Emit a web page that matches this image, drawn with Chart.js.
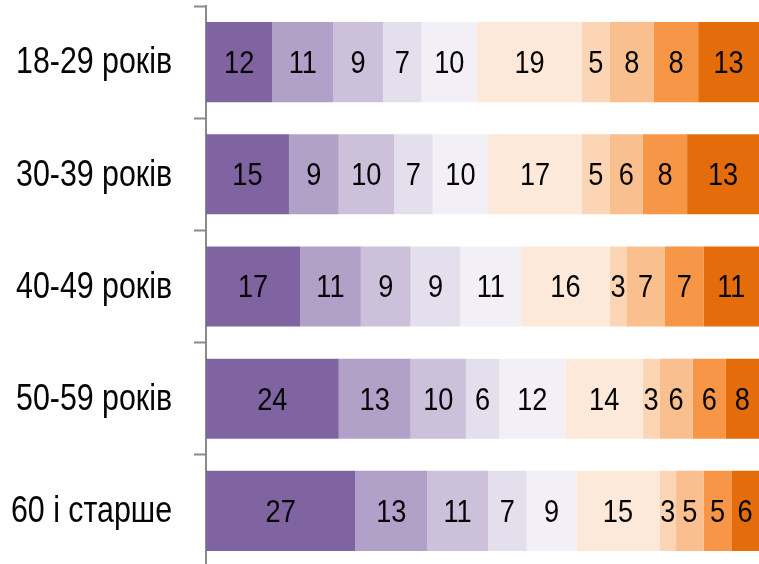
<!DOCTYPE html>
<html>
<head>
<meta charset="utf-8">
<script src="https://cdn.jsdelivr.net/npm/chart.js@4/dist/chart.umd.min.js"></script>
<style>
  html, body { margin: 0; padding: 0; background: #fff; overflow: hidden; }
  #wrap { width: 759px; height: 567px; position: relative; }
</style>
</head>
<body>
<div id="wrap"><canvas id="myChart"></canvas></div>
<script>
// Categories (age groups)
var ageGroups = ['18-29 років', '30-39 років', '40-49 років', '50-59 років', '60 і старше'];

// Series values, one array per answer level (left to right)
var level1 = [12, 15, 17, 24, 27];
var level2 = [11, 9, 11, 13, 13];
var level3 = [9, 10, 9, 10, 11];
var level4 = [7, 7, 9, 6, 7];
var level5 = [10, 10, 11, 12, 9];
var level6 = [19, 17, 16, 14, 15];
var level7 = [5, 5, 3, 3, 3];
var level8 = [8, 6, 7, 6, 5];
var level9 = [8, 8, 7, 6, 5];
var level10 = [13, 13, 11, 8, 6];

var seriesValues = [level1, level2, level3, level4, level5, level6, level7, level8, level9, level10];
var seriesColors = ['#8064a2', '#b1a0c7', '#ccc0da', '#e4dfec', '#f2f0f6',
                    '#fde9d9', '#fcd5b4', '#fabf8f', '#f79646', '#e46c0a'];

// draw text squeezed horizontally (the original uses a narrow face)
function drawSqueezed(ctx, text, x, y, font, align, sx) {
    ctx.save();
    ctx.font = font;
    ctx.fillStyle = '#050505';
    ctx.textAlign = align;
    ctx.textBaseline = 'middle';
    ctx.translate(x, y);
    ctx.scale(sx, 1);
    ctx.fillText(text, 0, 0);
    ctx.restore();
}

// Value labels, centred on the visible part of each segment, plus category labels
var textLayer = {
    id: 'textLayer',
    afterDatasetsDraw: function (chart) {
        var ctx = chart.ctx;
        var area = chart.chartArea;
        chart.data.datasets.forEach(function (ds, i) {
            var meta = chart.getDatasetMeta(i);
            meta.data.forEach(function (bar, j) {
                var left = Math.max(Math.min(bar.base, bar.x), area.left);
                var right = Math.min(Math.max(bar.base, bar.x), area.right);
                if (right <= left) return;
                drawSqueezed(ctx, String(ds.data[j]), (left + right) / 2, bar.y + 2,
                    '32px "Liberation Sans", Arial, sans-serif', 'center', 0.85);
            });
        });
        var yScale = chart.scales.y;
        chart.data.labels.forEach(function (lab, i) {
            drawSqueezed(ctx, lab, yScale.right - 34, yScale.getPixelForValue(i) + 1,
                '37px "Liberation Sans", Arial, sans-serif', 'right', 0.82);
        });
    }
};

var ctx = document.getElementById('myChart').getContext('2d');
var myChart = new Chart(ctx, {
    type: 'bar',
    data: {
        labels: ageGroups,
        datasets: seriesValues.map(function (vals, i) {
            return {
                data: vals,
                backgroundColor: seriesColors[i],
                borderWidth: 0,
                barPercentage: 1,
                categoryPercentage: 0.714
            };
        })
    },
    options: {
        indexAxis: 'y',
        responsive: true,
        maintainAspectRatio: false,
        animation: false,
        layout: { padding: { top: 6, left: 0, right: 0, bottom: 0 } },
        plugins: {
            legend: { display: false },
            tooltip: { enabled: false }
        },
        scales: {
            x: {
                stacked: true,
                display: false,
                min: 0,
                max: 100
            },
            y: {
                stacked: true,
                afterFit: function (scale) {
                    scale.width = 206;
                    scale.paddingTop = 0;
                    scale.paddingBottom = 0;
                },
                grid: {
                    offset: true,
                    drawOnChartArea: false,
                    tickLength: 12,
                    tickWidth: 2,
                    tickColor: '#8a8a8a'
                },
                border: { display: true, color: '#8a8a8a', width: 2 },
                ticks: {
                    color: 'rgba(0,0,0,0)',
                    padding: 22,
                    font: { family: '"Liberation Sans", Arial, sans-serif', size: 30 }
                }
            }
        }
    },
    plugins: [textLayer]
});
</script>
</body>
</html>
